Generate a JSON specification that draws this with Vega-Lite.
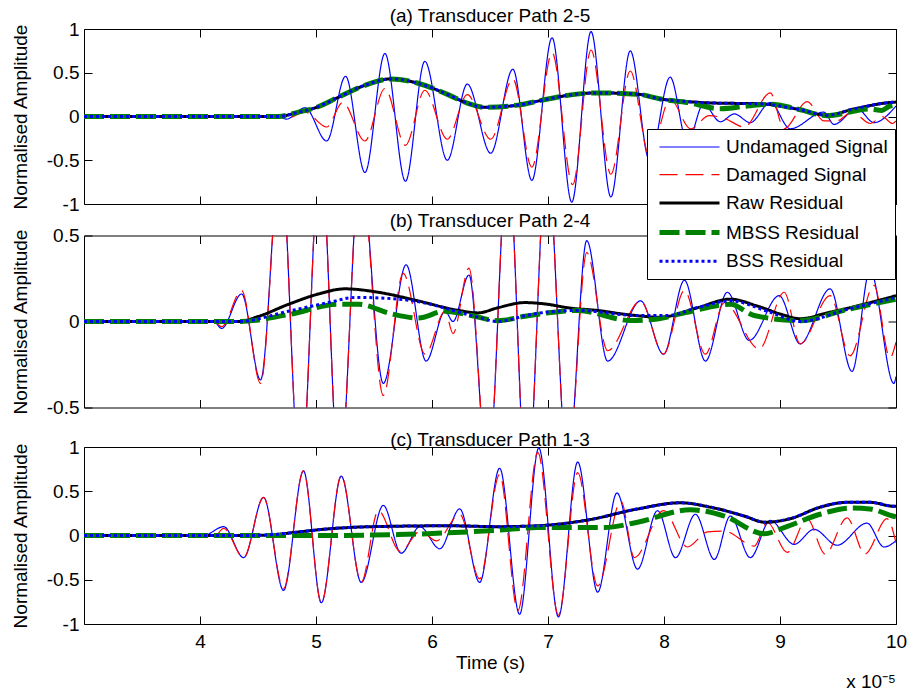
{
"$schema": "https://vega.github.io/schema/vega-lite/v6.json",
"padding": {"left": 10, "top": 6, "right": 0, "bottom": 0},
"title": {"text": "x 10⁻⁵", "orient": "bottom", "anchor": "end", "offset": 0, "fontSize": 19},
"config": {
  "font": "Liberation Sans",
  "view": {"stroke": "black", "strokeWidth": 1},
  "axis": {"grid": false, "domain": false, "tickColor": "black", "labelColor": "black", "titleColor": "black", "labelFontSize": 19, "titleFontSize": 19, "titleFontWeight": "normal", "tickSize": -8, "tickWidth": 1, "labelFlush": false, "labelOverlap": false},
  "axisY": {"labelPadding": 13, "titlePadding": 16},
  "axisX": {"labelPadding": 16, "titlePadding": 2},
  "title": {"fontSize": 19, "fontWeight": "normal", "color": "black", "frame": "group"},
  "legend": {"labelFontSize": 19, "labelColor": "black", "fillColor": "white", "strokeColor": "black", "padding": 7, "rowPadding": 6.7, "symbolSize": 400, "symbolType": "M-0.7,0H5.3", "labelOffset": 47, "labelLimit": 400},
  "concat": {"spacing": -4.5}
},
"datasets": {
"a": [
{"s":"Undamaged Signal","t":3,"v":0},{"s":"Undamaged Signal","t":4.677,"v":0},{"s":"Undamaged Signal","t":4.745,"v":-0.03},{"s":"Undamaged Signal","t":4.906,"v":0.10},{"s":"Undamaged Signal","t":5.092,"v":-0.28},{"s":"Undamaged Signal","t":5.255,"v":0.46},{"s":"Undamaged Signal","t":5.422,"v":-0.64},{"s":"Undamaged Signal","t":5.594,"v":0.72},{"s":"Undamaged Signal","t":5.771,"v":-0.74},{"s":"Undamaged Signal","t":5.938,"v":0.63},{"s":"Undamaged Signal","t":6.132,"v":-0.50},{"s":"Undamaged Signal","t":6.304,"v":0.37},{"s":"Undamaged Signal","t":6.506,"v":-0.42},{"s":"Undamaged Signal","t":6.697,"v":0.54},{"s":"Undamaged Signal","t":6.861,"v":-0.73},{"s":"Undamaged Signal","t":7.035,"v":0.90},{"s":"Undamaged Signal","t":7.205,"v":-0.98},{"s":"Undamaged Signal","t":7.371,"v":0.97},{"s":"Undamaged Signal","t":7.542,"v":-0.92},{"s":"Undamaged Signal","t":7.709,"v":0.75},{"s":"Undamaged Signal","t":7.875,"v":-0.50},{"s":"Undamaged Signal","t":8.053,"v":0.45},{"s":"Undamaged Signal","t":8.202,"v":-0.30},{"s":"Undamaged Signal","t":8.34,"v":0.14},{"s":"Undamaged Signal","t":8.486,"v":-0.06},{"s":"Undamaged Signal","t":8.606,"v":0.03},{"s":"Undamaged Signal","t":8.744,"v":-0.07},{"s":"Undamaged Signal","t":8.916,"v":0.16},{"s":"Undamaged Signal","t":9.088,"v":-0.14},{"s":"Undamaged Signal","t":9.377,"v":0.05},{"s":"Undamaged Signal","t":9.466,"v":-0.09},{"s":"Undamaged Signal","t":9.664,"v":0.09},{"s":"Undamaged Signal","t":9.81,"v":-0.07},{"s":"Undamaged Signal","t":10,"v":0.12},
{"s":"Damaged Signal","t":3,"v":0},{"s":"Damaged Signal","t":4.677,"v":0},{"s":"Damaged Signal","t":4.745,"v":-0.02},{"s":"Damaged Signal","t":4.906,"v":0.05},{"s":"Damaged Signal","t":5.092,"v":-0.12},{"s":"Damaged Signal","t":5.23,"v":0.16},{"s":"Damaged Signal","t":5.422,"v":-0.28},{"s":"Damaged Signal","t":5.594,"v":0.32},{"s":"Damaged Signal","t":5.771,"v":-0.33},{"s":"Damaged Signal","t":5.938,"v":0.30},{"s":"Damaged Signal","t":6.132,"v":-0.26},{"s":"Damaged Signal","t":6.304,"v":0.25},{"s":"Damaged Signal","t":6.506,"v":-0.26},{"s":"Damaged Signal","t":6.697,"v":0.43},{"s":"Damaged Signal","t":6.861,"v":-0.58},{"s":"Damaged Signal","t":7.035,"v":0.73},{"s":"Damaged Signal","t":7.213,"v":-0.78},{"s":"Damaged Signal","t":7.371,"v":0.76},{"s":"Damaged Signal","t":7.542,"v":-0.66},{"s":"Damaged Signal","t":7.709,"v":0.52},{"s":"Damaged Signal","t":7.875,"v":-0.45},{"s":"Damaged Signal","t":8.053,"v":0.20},{"s":"Damaged Signal","t":8.23,"v":-0.14},{"s":"Damaged Signal","t":8.39,"v":0.01},{"s":"Damaged Signal","t":8.52,"v":-0.02},{"s":"Damaged Signal","t":8.692,"v":-0.12},{"s":"Damaged Signal","t":8.916,"v":0.27},{"s":"Damaged Signal","t":9.036,"v":-0.14},{"s":"Damaged Signal","t":9.234,"v":0.17},{"s":"Damaged Signal","t":9.377,"v":-0.05},{"s":"Damaged Signal","t":9.49,"v":-0.05},{"s":"Damaged Signal","t":9.62,"v":0.05},{"s":"Damaged Signal","t":9.78,"v":-0.08},{"s":"Damaged Signal","t":9.88,"v":0.0},{"s":"Damaged Signal","t":9.97,"v":-0.08},{"s":"Damaged Signal","t":10,"v":-0.05},
{"s":"Raw Residual","t":3,"v":0},{"s":"Raw Residual","t":4.677,"v":0},{"s":"Raw Residual","t":4.849,"v":0.05},{"s":"Raw Residual","t":4.995,"v":0.10},{"s":"Raw Residual","t":5.193,"v":0.22},{"s":"Raw Residual","t":5.408,"v":0.35},{"s":"Raw Residual","t":5.648,"v":0.43},{"s":"Raw Residual","t":5.88,"v":0.38},{"s":"Raw Residual","t":6.138,"v":0.25},{"s":"Raw Residual","t":6.31,"v":0.15},{"s":"Raw Residual","t":6.457,"v":0.105},{"s":"Raw Residual","t":6.74,"v":0.13},{"s":"Raw Residual","t":6.998,"v":0.20},{"s":"Raw Residual","t":7.213,"v":0.25},{"s":"Raw Residual","t":7.428,"v":0.27},{"s":"Raw Residual","t":7.772,"v":0.255},{"s":"Raw Residual","t":7.97,"v":0.20},{"s":"Raw Residual","t":8.202,"v":0.17},{"s":"Raw Residual","t":8.4,"v":0.155},{"s":"Raw Residual","t":8.83,"v":0.145},{"s":"Raw Residual","t":9.148,"v":0.085},{"s":"Raw Residual","t":9.406,"v":0.015},{"s":"Raw Residual","t":9.638,"v":0.086},{"s":"Raw Residual","t":9.948,"v":0.16},{"s":"Raw Residual","t":10,"v":0.165},
{"s":"MBSS Residual","t":3,"v":0},{"s":"MBSS Residual","t":4.677,"v":0},{"s":"MBSS Residual","t":4.849,"v":0.05},{"s":"MBSS Residual","t":4.995,"v":0.10},{"s":"MBSS Residual","t":5.193,"v":0.22},{"s":"MBSS Residual","t":5.408,"v":0.35},{"s":"MBSS Residual","t":5.648,"v":0.43},{"s":"MBSS Residual","t":5.88,"v":0.38},{"s":"MBSS Residual","t":6.138,"v":0.25},{"s":"MBSS Residual","t":6.31,"v":0.15},{"s":"MBSS Residual","t":6.457,"v":0.105},{"s":"MBSS Residual","t":6.74,"v":0.13},{"s":"MBSS Residual","t":6.998,"v":0.20},{"s":"MBSS Residual","t":7.213,"v":0.25},{"s":"MBSS Residual","t":7.428,"v":0.27},{"s":"MBSS Residual","t":7.772,"v":0.255},{"s":"MBSS Residual","t":7.97,"v":0.20},{"s":"MBSS Residual","t":8.202,"v":0.16},{"s":"MBSS Residual","t":8.486,"v":0.09},{"s":"MBSS Residual","t":8.718,"v":0.12},{"s":"MBSS Residual","t":8.916,"v":0.14},{"s":"MBSS Residual","t":9.148,"v":0.086},{"s":"MBSS Residual","t":9.406,"v":0.01},{"s":"MBSS Residual","t":9.776,"v":0.086},{"s":"MBSS Residual","t":9.879,"v":0.07},{"s":"MBSS Residual","t":9.948,"v":0.12},{"s":"MBSS Residual","t":10,"v":0.13},
{"s":"BSS Residual","t":3,"v":0},{"s":"BSS Residual","t":4.677,"v":0},{"s":"BSS Residual","t":4.849,"v":0.05},{"s":"BSS Residual","t":4.995,"v":0.10},{"s":"BSS Residual","t":5.193,"v":0.22},{"s":"BSS Residual","t":5.408,"v":0.35},{"s":"BSS Residual","t":5.648,"v":0.43},{"s":"BSS Residual","t":5.88,"v":0.38},{"s":"BSS Residual","t":6.138,"v":0.25},{"s":"BSS Residual","t":6.31,"v":0.15},{"s":"BSS Residual","t":6.457,"v":0.105},{"s":"BSS Residual","t":6.74,"v":0.13},{"s":"BSS Residual","t":6.998,"v":0.20},{"s":"BSS Residual","t":7.213,"v":0.25},{"s":"BSS Residual","t":7.428,"v":0.27},{"s":"BSS Residual","t":7.772,"v":0.255},{"s":"BSS Residual","t":7.97,"v":0.20},{"s":"BSS Residual","t":8.202,"v":0.17},{"s":"BSS Residual","t":8.4,"v":0.155},{"s":"BSS Residual","t":8.83,"v":0.145},{"s":"BSS Residual","t":9.148,"v":0.085},{"s":"BSS Residual","t":9.406,"v":0.015},{"s":"BSS Residual","t":9.638,"v":0.086},{"s":"BSS Residual","t":9.948,"v":0.16},{"s":"BSS Residual","t":10,"v":0.165}
],
"b": [
{"s":"Undamaged Signal","t":3,"v":0},{"s":"Undamaged Signal","t":4.118,"v":0},{"s":"Undamaged Signal","t":4.187,"v":-0.04},{"s":"Undamaged Signal","t":4.359,"v":0.16},{"s":"Undamaged Signal","t":4.522,"v":-0.34},{"s":"Undamaged Signal","t":4.694,"v":0.95},{"s":"Undamaged Signal","t":4.866,"v":-0.95},{"s":"Undamaged Signal","t":5.038,"v":1.0},{"s":"Undamaged Signal","t":5.201,"v":-0.92},{"s":"Undamaged Signal","t":5.382,"v":0.9},{"s":"Undamaged Signal","t":5.58,"v":-0.36},{"s":"Undamaged Signal","t":5.777,"v":0.33},{"s":"Undamaged Signal","t":5.949,"v":-0.23},{"s":"Undamaged Signal","t":6.113,"v":0.06},{"s":"Undamaged Signal","t":6.181,"v":0.0},{"s":"Undamaged Signal","t":6.319,"v":0.27},{"s":"Undamaged Signal","t":6.482,"v":-0.9},{"s":"Undamaged Signal","t":6.654,"v":0.95},{"s":"Undamaged Signal","t":6.818,"v":-1.0},{"s":"Undamaged Signal","t":6.99,"v":0.95},{"s":"Undamaged Signal","t":7.17,"v":-0.85},{"s":"Undamaged Signal","t":7.334,"v":0.47},{"s":"Undamaged Signal","t":7.514,"v":-0.23},{"s":"Undamaged Signal","t":7.798,"v":0.12},{"s":"Undamaged Signal","t":7.996,"v":-0.19},{"s":"Undamaged Signal","t":8.176,"v":0.24},{"s":"Undamaged Signal","t":8.357,"v":-0.23},{"s":"Undamaged Signal","t":8.546,"v":0.17},{"s":"Undamaged Signal","t":8.735,"v":-0.11},{"s":"Undamaged Signal","t":8.993,"v":0.15},{"s":"Undamaged Signal","t":9.174,"v":-0.13},{"s":"Undamaged Signal","t":9.432,"v":0.19},{"s":"Undamaged Signal","t":9.621,"v":-0.29},{"s":"Undamaged Signal","t":9.776,"v":0.30},{"s":"Undamaged Signal","t":9.982,"v":-0.36},{"s":"Undamaged Signal","t":10,"v":-0.32},
{"s":"Damaged Signal","t":3,"v":0},{"s":"Damaged Signal","t":4.118,"v":0},{"s":"Damaged Signal","t":4.187,"v":-0.03},{"s":"Damaged Signal","t":4.359,"v":0.18},{"s":"Damaged Signal","t":4.522,"v":-0.36},{"s":"Damaged Signal","t":4.694,"v":0.95},{"s":"Damaged Signal","t":4.866,"v":-0.95},{"s":"Damaged Signal","t":5.038,"v":1.0},{"s":"Damaged Signal","t":5.201,"v":-0.92},{"s":"Damaged Signal","t":5.382,"v":0.9},{"s":"Damaged Signal","t":5.58,"v":-0.43},{"s":"Damaged Signal","t":5.751,"v":0.28},{"s":"Damaged Signal","t":5.941,"v":-0.19},{"s":"Damaged Signal","t":6.113,"v":0.06},{"s":"Damaged Signal","t":6.181,"v":-0.07},{"s":"Damaged Signal","t":6.319,"v":0.31},{"s":"Damaged Signal","t":6.482,"v":-0.9},{"s":"Damaged Signal","t":6.654,"v":0.95},{"s":"Damaged Signal","t":6.818,"v":-1.0},{"s":"Damaged Signal","t":6.99,"v":0.95},{"s":"Damaged Signal","t":7.17,"v":-0.85},{"s":"Damaged Signal","t":7.334,"v":0.40},{"s":"Damaged Signal","t":7.514,"v":-0.17},{"s":"Damaged Signal","t":7.798,"v":0.12},{"s":"Damaged Signal","t":7.996,"v":-0.19},{"s":"Damaged Signal","t":8.176,"v":0.18},{"s":"Damaged Signal","t":8.357,"v":-0.19},{"s":"Damaged Signal","t":8.52,"v":0.11},{"s":"Damaged Signal","t":8.821,"v":-0.16},{"s":"Damaged Signal","t":9.036,"v":0.17},{"s":"Damaged Signal","t":9.174,"v":-0.13},{"s":"Damaged Signal","t":9.432,"v":0.15},{"s":"Damaged Signal","t":9.604,"v":-0.20},{"s":"Damaged Signal","t":9.81,"v":0.21},{"s":"Damaged Signal","t":9.948,"v":-0.21},{"s":"Damaged Signal","t":10,"v":-0.12},
{"s":"Raw Residual","t":3,"v":0},{"s":"Raw Residual","t":4.333,"v":0},{"s":"Raw Residual","t":4.505,"v":0.03},{"s":"Raw Residual","t":4.763,"v":0.10},{"s":"Raw Residual","t":5.021,"v":0.16},{"s":"Raw Residual","t":5.25,"v":0.19},{"s":"Raw Residual","t":5.537,"v":0.17},{"s":"Raw Residual","t":5.88,"v":0.12},{"s":"Raw Residual","t":6.224,"v":0.065},{"s":"Raw Residual","t":6.396,"v":0.05},{"s":"Raw Residual","t":6.568,"v":0.08},{"s":"Raw Residual","t":6.8,"v":0.11},{"s":"Raw Residual","t":6.998,"v":0.10},{"s":"Raw Residual","t":7.17,"v":0.08},{"s":"Raw Residual","t":7.428,"v":0.064},{"s":"Raw Residual","t":7.686,"v":0.04},{"s":"Raw Residual","t":7.97,"v":0.025},{"s":"Raw Residual","t":8.288,"v":0.08},{"s":"Raw Residual","t":8.572,"v":0.13},{"s":"Raw Residual","t":8.804,"v":0.09},{"s":"Raw Residual","t":9.019,"v":0.04},{"s":"Raw Residual","t":9.174,"v":0.016},{"s":"Raw Residual","t":9.406,"v":0.05},{"s":"Raw Residual","t":9.664,"v":0.09},{"s":"Raw Residual","t":10,"v":0.15},
{"s":"MBSS Residual","t":3,"v":0},{"s":"MBSS Residual","t":4.333,"v":0},{"s":"MBSS Residual","t":4.763,"v":0.04},{"s":"MBSS Residual","t":5.193,"v":0.10},{"s":"MBSS Residual","t":5.365,"v":0.10},{"s":"MBSS Residual","t":5.648,"v":0.045},{"s":"MBSS Residual","t":5.88,"v":0.02},{"s":"MBSS Residual","t":6.113,"v":0.06},{"s":"MBSS Residual","t":6.336,"v":0.035},{"s":"MBSS Residual","t":6.568,"v":0.005},{"s":"MBSS Residual","t":6.8,"v":0.03},{"s":"MBSS Residual","t":6.998,"v":0.05},{"s":"MBSS Residual","t":7.256,"v":0.064},{"s":"MBSS Residual","t":7.712,"v":0.006},{"s":"MBSS Residual","t":7.944,"v":0.015},{"s":"MBSS Residual","t":8.176,"v":0.05},{"s":"MBSS Residual","t":8.572,"v":0.10},{"s":"MBSS Residual","t":8.778,"v":0.035},{"s":"MBSS Residual","t":9.174,"v":0.005},{"s":"MBSS Residual","t":9.578,"v":0.07},{"s":"MBSS Residual","t":10,"v":0.13},
{"s":"BSS Residual","t":3,"v":0},{"s":"BSS Residual","t":4.333,"v":0},{"s":"BSS Residual","t":4.763,"v":0.06},{"s":"BSS Residual","t":5.107,"v":0.11},{"s":"BSS Residual","t":5.339,"v":0.14},{"s":"BSS Residual","t":5.709,"v":0.13},{"s":"BSS Residual","t":6.052,"v":0.09},{"s":"BSS Residual","t":6.224,"v":0.055},{"s":"BSS Residual","t":6.396,"v":0.025},{"s":"BSS Residual","t":6.568,"v":0.0},{"s":"BSS Residual","t":6.654,"v":0.008},{"s":"BSS Residual","t":6.8,"v":0.033},{"s":"BSS Residual","t":6.998,"v":0.055},{"s":"BSS Residual","t":7.256,"v":0.064},{"s":"BSS Residual","t":7.772,"v":0.035},{"s":"BSS Residual","t":8.03,"v":0.035},{"s":"BSS Residual","t":8.288,"v":0.08},{"s":"BSS Residual","t":8.572,"v":0.12},{"s":"BSS Residual","t":8.89,"v":0.06},{"s":"BSS Residual","t":9.174,"v":0.0},{"s":"BSS Residual","t":9.578,"v":0.07},{"s":"BSS Residual","t":10,"v":0.14}
],
"c": [
{"s":"Undamaged Signal","t":3,"v":0},{"s":"Undamaged Signal","t":4.032,"v":0},{"s":"Undamaged Signal","t":4.204,"v":0.10},{"s":"Undamaged Signal","t":4.376,"v":-0.25},{"s":"Undamaged Signal","t":4.548,"v":0.43},{"s":"Undamaged Signal","t":4.72,"v":-0.62},{"s":"Undamaged Signal","t":4.892,"v":0.73},{"s":"Undamaged Signal","t":5.046,"v":-0.76},{"s":"Undamaged Signal","t":5.218,"v":0.67},{"s":"Undamaged Signal","t":5.39,"v":-0.53},{"s":"Undamaged Signal","t":5.58,"v":0.34},{"s":"Undamaged Signal","t":5.734,"v":-0.20},{"s":"Undamaged Signal","t":5.895,"v":0.10},{"s":"Undamaged Signal","t":6.067,"v":-0.15},{"s":"Undamaged Signal","t":6.239,"v":0.30},{"s":"Undamaged Signal","t":6.411,"v":-0.53},{"s":"Undamaged Signal","t":6.583,"v":0.76},{"s":"Undamaged Signal","t":6.755,"v":-0.89},{"s":"Undamaged Signal","t":6.921,"v":0.99},{"s":"Undamaged Signal","t":7.09,"v":-0.92},{"s":"Undamaged Signal","t":7.256,"v":0.83},{"s":"Undamaged Signal","t":7.428,"v":-0.64},{"s":"Undamaged Signal","t":7.594,"v":0.48},{"s":"Undamaged Signal","t":7.772,"v":-0.38},{"s":"Undamaged Signal","t":7.944,"v":0.28},{"s":"Undamaged Signal","t":8.099,"v":-0.25},{"s":"Undamaged Signal","t":8.271,"v":0.24},{"s":"Undamaged Signal","t":8.434,"v":-0.27},{"s":"Undamaged Signal","t":8.572,"v":0.22},{"s":"Undamaged Signal","t":8.744,"v":-0.25},{"s":"Undamaged Signal","t":8.916,"v":0.17},{"s":"Undamaged Signal","t":9.122,"v":-0.10},{"s":"Undamaged Signal","t":9.294,"v":0.07},{"s":"Undamaged Signal","t":9.492,"v":-0.11},{"s":"Undamaged Signal","t":9.75,"v":0.14},{"s":"Undamaged Signal","t":9.896,"v":-0.13},{"s":"Undamaged Signal","t":10,"v":-0.06},
{"s":"Damaged Signal","t":3,"v":0},{"s":"Damaged Signal","t":4.032,"v":0},{"s":"Damaged Signal","t":4.118,"v":-0.02},{"s":"Damaged Signal","t":4.204,"v":0.08},{"s":"Damaged Signal","t":4.376,"v":-0.25},{"s":"Damaged Signal","t":4.548,"v":0.43},{"s":"Damaged Signal","t":4.72,"v":-0.60},{"s":"Damaged Signal","t":4.892,"v":0.73},{"s":"Damaged Signal","t":5.046,"v":-0.76},{"s":"Damaged Signal","t":5.218,"v":0.68},{"s":"Damaged Signal","t":5.39,"v":-0.53},{"s":"Damaged Signal","t":5.537,"v":0.28},{"s":"Damaged Signal","t":5.726,"v":-0.18},{"s":"Damaged Signal","t":5.9,"v":0.05},{"s":"Damaged Signal","t":6.038,"v":-0.06},{"s":"Damaged Signal","t":6.239,"v":0.24},{"s":"Damaged Signal","t":6.411,"v":-0.49},{"s":"Damaged Signal","t":6.583,"v":0.69},{"s":"Damaged Signal","t":6.74,"v":-0.85},{"s":"Damaged Signal","t":6.912,"v":0.94},{"s":"Damaged Signal","t":7.09,"v":-0.90},{"s":"Damaged Signal","t":7.256,"v":0.71},{"s":"Damaged Signal","t":7.428,"v":-0.57},{"s":"Damaged Signal","t":7.629,"v":0.39},{"s":"Damaged Signal","t":7.744,"v":-0.25},{"s":"Damaged Signal","t":7.996,"v":0.28},{"s":"Damaged Signal","t":8.202,"v":-0.13},{"s":"Damaged Signal","t":8.374,"v":0.04},{"s":"Damaged Signal","t":8.52,"v":0.05},{"s":"Damaged Signal","t":8.778,"v":-0.12},{"s":"Damaged Signal","t":8.89,"v":0.15},{"s":"Damaged Signal","t":9.062,"v":-0.19},{"s":"Damaged Signal","t":9.234,"v":0.19},{"s":"Damaged Signal","t":9.389,"v":-0.21},{"s":"Damaged Signal","t":9.578,"v":0.20},{"s":"Damaged Signal","t":9.733,"v":-0.21},{"s":"Damaged Signal","t":9.922,"v":0.19},{"s":"Damaged Signal","t":10,"v":-0.08},
{"s":"Raw Residual","t":3,"v":0},{"s":"Raw Residual","t":4.419,"v":0},{"s":"Raw Residual","t":4.677,"v":0.015},{"s":"Raw Residual","t":4.849,"v":0.04},{"s":"Raw Residual","t":5.107,"v":0.075},{"s":"Raw Residual","t":5.365,"v":0.095},{"s":"Raw Residual","t":5.709,"v":0.105},{"s":"Raw Residual","t":6.138,"v":0.11},{"s":"Raw Residual","t":6.568,"v":0.10},{"s":"Raw Residual","t":6.912,"v":0.11},{"s":"Raw Residual","t":7.342,"v":0.175},{"s":"Raw Residual","t":7.772,"v":0.30},{"s":"Raw Residual","t":8.142,"v":0.37},{"s":"Raw Residual","t":8.4,"v":0.32},{"s":"Raw Residual","t":8.692,"v":0.22},{"s":"Raw Residual","t":8.87,"v":0.15},{"s":"Raw Residual","t":9.088,"v":0.19},{"s":"Raw Residual","t":9.346,"v":0.32},{"s":"Raw Residual","t":9.578,"v":0.375},{"s":"Raw Residual","t":9.776,"v":0.375},{"s":"Raw Residual","t":9.982,"v":0.33},{"s":"Raw Residual","t":10,"v":0.33},
{"s":"MBSS Residual","t":3,"v":0},{"s":"MBSS Residual","t":5.0,"v":0.0},{"s":"MBSS Residual","t":5.709,"v":0.01},{"s":"MBSS Residual","t":6.138,"v":0.03},{"s":"MBSS Residual","t":6.568,"v":0.06},{"s":"MBSS Residual","t":6.912,"v":0.09},{"s":"MBSS Residual","t":7.488,"v":0.09},{"s":"MBSS Residual","t":7.772,"v":0.15},{"s":"MBSS Residual","t":8.228,"v":0.29},{"s":"MBSS Residual","t":8.52,"v":0.22},{"s":"MBSS Residual","t":8.864,"v":0.02},{"s":"MBSS Residual","t":9.036,"v":0.09},{"s":"MBSS Residual","t":9.346,"v":0.24},{"s":"MBSS Residual","t":9.604,"v":0.31},{"s":"MBSS Residual","t":9.776,"v":0.30},{"s":"MBSS Residual","t":9.97,"v":0.22},{"s":"MBSS Residual","t":10,"v":0.21},
{"s":"BSS Residual","t":3,"v":0},{"s":"BSS Residual","t":4.419,"v":0},{"s":"BSS Residual","t":4.677,"v":0.015},{"s":"BSS Residual","t":4.849,"v":0.04},{"s":"BSS Residual","t":5.107,"v":0.075},{"s":"BSS Residual","t":5.365,"v":0.095},{"s":"BSS Residual","t":5.709,"v":0.105},{"s":"BSS Residual","t":6.138,"v":0.11},{"s":"BSS Residual","t":6.568,"v":0.10},{"s":"BSS Residual","t":6.912,"v":0.11},{"s":"BSS Residual","t":7.342,"v":0.175},{"s":"BSS Residual","t":7.772,"v":0.30},{"s":"BSS Residual","t":8.142,"v":0.37},{"s":"BSS Residual","t":8.4,"v":0.32},{"s":"BSS Residual","t":8.692,"v":0.22},{"s":"BSS Residual","t":8.87,"v":0.15},{"s":"BSS Residual","t":9.088,"v":0.19},{"s":"BSS Residual","t":9.346,"v":0.32},{"s":"BSS Residual","t":9.578,"v":0.375},{"s":"BSS Residual","t":9.776,"v":0.375},{"s":"BSS Residual","t":9.982,"v":0.33},{"s":"BSS Residual","t":10,"v":0.33}
]
},
"vconcat": [
{
  "width": 812, "height": 175,
  "title": {"text": "(a) Transducer Path 2-5", "offset": -6},
  "data": {"name": "a"},
  "layer": [
    {
      "mark": {"type": "line", "interpolate": "monotone", "clip": true},
      "encoding": {
        "x": {"field": "t", "type": "quantitative", "scale": {"domain": [3, 10], "nice": false, "zero": false}, "axis": {"orient": "bottom", "values": [4,5,6,7,8,9,10], "labels": false, "title": null}},
        "y": {"field": "v", "type": "quantitative", "scale": {"domain": [-1, 1], "nice": false, "zero": false}, "axis": {"orient": "left", "values": [-1,-0.5,0,0.5,1], "title": "Normalised Amplitude", "labelExpr": "'' + datum.value"}},
        "color": {"field": "s", "type": "nominal", "scale": {"domain": ["Undamaged Signal","Damaged Signal","Raw Residual","MBSS Residual","BSS Residual"], "range": ["#0000ff","#ff0000","#000000","#008000","#0000ff"]}, "legend": {"title": null, "orient": "none", "legendX": 563, "legendY": 100}},
        "strokeDash": {"field": "s", "type": "nominal", "scale": {"domain": ["Undamaged Signal","Damaged Signal","Raw Residual","MBSS Residual","BSS Residual"], "range": [[1,0],[18,8],[1,0],[20,6],[3,3]]}, "legend": {"title": null, "orient": "none", "legendX": 563, "legendY": 100}},
        "strokeWidth": {"field": "s", "type": "nominal", "scale": {"type": "ordinal", "domain": ["Undamaged Signal","Damaged Signal","Raw Residual","MBSS Residual","BSS Residual"], "range": [1.2,1.2,3,5,3]}, "legend": {"title": null, "orient": "none", "legendX": 563, "legendY": 100}}
      }
    },
    {
      "mark": {"type": "line", "opacity": 0, "clip": true},
      "encoding": {
        "x": {"field": "t", "type": "quantitative", "axis": {"orient": "top", "values": [4,5,6,7,8,9,10], "labels": false, "title": null}},
        "y": {"field": "v", "type": "quantitative", "axis": {"orient": "right", "values": [-1,-0.5,0,0.5,1], "labels": false, "title": null}}
      }
    }
  ],
  "resolve": {"axis": {"x": "independent", "y": "independent"}}
},
{
  "width": 812, "height": 172,
  "title": {"text": "(b) Transducer Path 2-4", "offset": -4},
  "data": {"name": "b"},
  "layer": [
    {
      "mark": {"type": "line", "interpolate": "monotone", "clip": true},
      "encoding": {
        "x": {"field": "t", "type": "quantitative", "scale": {"domain": [3, 10], "nice": false, "zero": false}, "axis": {"orient": "bottom", "values": [4,5,6,7,8,9,10], "labels": false, "title": null, "minExtent": 26.5}},
        "y": {"field": "v", "type": "quantitative", "scale": {"domain": [-0.5, 0.5], "nice": false, "zero": false}, "axis": {"orient": "left", "values": [-0.5,0,0.5], "title": "Normalised Amplitude", "labelExpr": "'' + datum.value"}},
        "color": {"field": "s", "type": "nominal", "scale": {"domain": ["Undamaged Signal","Damaged Signal","Raw Residual","MBSS Residual","BSS Residual"], "range": ["#0000ff","#ff0000","#000000","#008000","#0000ff"]}, "legend": {"title": null, "orient": "none", "legendX": 563, "legendY": 100}},
        "strokeDash": {"field": "s", "type": "nominal", "scale": {"domain": ["Undamaged Signal","Damaged Signal","Raw Residual","MBSS Residual","BSS Residual"], "range": [[1,0],[18,8],[1,0],[20,6],[3,3]]}, "legend": {"title": null, "orient": "none", "legendX": 563, "legendY": 100}},
        "strokeWidth": {"field": "s", "type": "nominal", "scale": {"type": "ordinal", "domain": ["Undamaged Signal","Damaged Signal","Raw Residual","MBSS Residual","BSS Residual"], "range": [1.2,1.2,3,5,3]}, "legend": {"title": null, "orient": "none", "legendX": 563, "legendY": 100}}
      }
    },
    {
      "mark": {"type": "line", "opacity": 0, "clip": true},
      "encoding": {
        "x": {"field": "t", "type": "quantitative", "axis": {"orient": "top", "values": [4,5,6,7,8,9,10], "labels": false, "title": null}},
        "y": {"field": "v", "type": "quantitative", "axis": {"orient": "right", "values": [-0.5,0,0.5], "labels": false, "title": null}}
      }
    }
  ],
  "resolve": {"axis": {"x": "independent", "y": "independent"}}
},
{
  "width": 812, "height": 177,
  "title": {"text": "(c) Transducer Path 1-3", "offset": -12},
  "data": {"name": "c"},
  "layer": [
    {
      "mark": {"type": "line", "interpolate": "monotone", "clip": true},
      "encoding": {
        "x": {"field": "t", "type": "quantitative", "scale": {"domain": [3, 10], "nice": false, "zero": false}, "axis": {"orient": "bottom", "values": [4,5,6,7,8,9,10], "title": "Time (s)"}},
        "y": {"field": "v", "type": "quantitative", "scale": {"domain": [-1, 1], "nice": false, "zero": false}, "axis": {"orient": "left", "values": [-1,-0.5,0,0.5,1], "title": "Normalised Amplitude", "labelExpr": "'' + datum.value"}},
        "color": {"field": "s", "type": "nominal", "scale": {"domain": ["Undamaged Signal","Damaged Signal","Raw Residual","MBSS Residual","BSS Residual"], "range": ["#0000ff","#ff0000","#000000","#008000","#0000ff"]}, "legend": {"title": null, "orient": "none", "legendX": 563, "legendY": 100}},
        "strokeDash": {"field": "s", "type": "nominal", "scale": {"domain": ["Undamaged Signal","Damaged Signal","Raw Residual","MBSS Residual","BSS Residual"], "range": [[1,0],[18,8],[1,0],[20,6],[3,3]]}, "legend": {"title": null, "orient": "none", "legendX": 563, "legendY": 100}},
        "strokeWidth": {"field": "s", "type": "nominal", "scale": {"type": "ordinal", "domain": ["Undamaged Signal","Damaged Signal","Raw Residual","MBSS Residual","BSS Residual"], "range": [1.2,1.2,3,5,3]}, "legend": {"title": null, "orient": "none", "legendX": 563, "legendY": 100}}
      }
    },
    {
      "mark": {"type": "line", "opacity": 0, "clip": true},
      "encoding": {
        "x": {"field": "t", "type": "quantitative", "axis": {"orient": "top", "values": [4,5,6,7,8,9,10], "labels": false, "title": null}},
        "y": {"field": "v", "type": "quantitative", "axis": {"orient": "right", "values": [-1,-0.5,0,0.5,1], "labels": false, "title": null}}
      }
    }
  ],
  "resolve": {"axis": {"x": "independent", "y": "independent"}}
}
]
}
